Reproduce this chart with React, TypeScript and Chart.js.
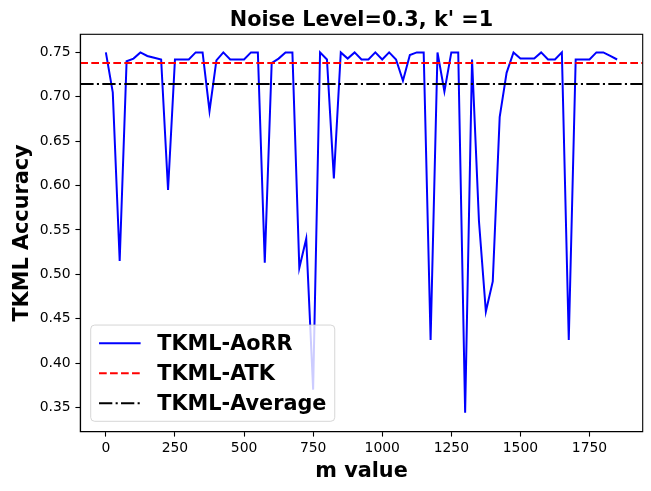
import { useEffect, useRef } from "react"
import { Chart, registerables } from "chart.js"

Chart.register(...registerables)

const chartTitle = "Noise Level=0.3, k' =1"
const xTitle = "m value"
const yTitle = "TKML Accuracy"

const mValues = [
  0, 25, 50, 75, 100, 125, 150, 175, 200, 225, 250, 275, 300, 325, 350, 375, 400, 425, 450,
  475, 500, 525, 550, 575, 600, 625, 650, 675, 700, 725, 750, 775, 800, 825, 850, 875, 900,
  925, 950, 975, 1000, 1025, 1050, 1075, 1100, 1125, 1150, 1175, 1200, 1225, 1250, 1275,
  1300, 1325, 1350, 1375, 1400, 1425, 1450, 1475, 1500, 1525, 1550, 1575, 1600, 1625, 1650,
  1675, 1700, 1725, 1750, 1775, 1800, 1825, 1850,
]

const aorrAccuracy = [
  0.75, 0.705, 0.515, 0.74, 0.743, 0.75, 0.746, 0.744, 0.742, 0.595, 0.742, 0.742, 0.742,
  0.75, 0.75, 0.684, 0.741, 0.75, 0.742, 0.742, 0.742, 0.75, 0.75, 0.513, 0.738, 0.743, 0.75,
  0.75, 0.507, 0.54, 0.37, 0.75, 0.742, 0.608, 0.75, 0.743, 0.75, 0.742, 0.742, 0.75, 0.742,
  0.75, 0.742, 0.718, 0.747, 0.75, 0.75, 0.426, 0.75, 0.706, 0.75, 0.75, 0.344, 0.742, 0.56,
  0.458, 0.492, 0.677, 0.727, 0.75, 0.743, 0.743, 0.743, 0.75, 0.742, 0.742, 0.75, 0.426,
  0.742, 0.742, 0.742, 0.75, 0.75, 0.746, 0.742,
]

const atkAccuracy = 0.738
const averageAccuracy = 0.7145

const xTicks = [0, 250, 500, 750, 1000, 1250, 1500, 1750]
const yTicks = [0.35, 0.4, 0.45, 0.5, 0.55, 0.6, 0.65, 0.7, 0.75]
const xLimits = [-92.5, 1942.5]
const yLimits = [0.3226, 0.7704]

const labelFont = "bold 20.8px 'DejaVu Sans'"

// title centred over the plot area, like matplotlib
const titlePlugin = {
  id: "axesTitle",
  afterDraw(chart: any) {
    const { ctx, chartArea } = chart
    ctx.save()
    ctx.font = labelFont
    ctx.fillStyle = "#000"
    ctx.textAlign = "center"
    ctx.textBaseline = "alphabetic"
    ctx.fillText(chartTitle, (chartArea.left + chartArea.right) / 2, 25.5)
    ctx.restore()
  },
}

// black frame around the axes
const framePlugin = {
  id: "axesFrame",
  afterDatasetsDraw(chart: any) {
    const { ctx, chartArea } = chart
    ctx.save()
    ctx.strokeStyle = "#000"
    ctx.lineWidth = 1.1
    ctx.strokeRect(chartArea.left, chartArea.top, chartArea.right - chartArea.left, chartArea.bottom - chartArea.top)
    ctx.restore()
  },
}

// legend inside the axes, lower left, semi-transparent box
const legendPlugin = {
  id: "innerLegend",
  afterDatasetsDraw(chart: any) {
    const { ctx, chartArea } = chart
    const sets = [...chart.data.datasets].sort((a: any, b: any) => b.order - a.order)
    const fs = 20.8
    const pad = 0.4 * fs
    const handleLen = 2 * fs
    const textPad = 0.8 * fs
    const rowH = 19.6
    const rowGap = 0.5 * fs
    ctx.save()
    ctx.font = labelFont
    const textW = Math.max(...sets.map((d: any) => ctx.measureText(d.label).width))
    const w = pad + handleLen + textPad + textW + pad
    const h = pad * 2 + rowH * sets.length + rowGap * (sets.length - 1)
    const x0 = chartArea.left + 0.5 * fs
    const y0 = chartArea.bottom - 0.5 * fs - h
    ctx.beginPath()
    ctx.roundRect(x0, y0, w, h, 4)
    ctx.fillStyle = "rgba(255,255,255,0.8)"
    ctx.fill()
    ctx.strokeStyle = "rgba(204,204,204,0.8)"
    ctx.lineWidth = 1
    ctx.stroke()
    sets.forEach((d: any, i: number) => {
      const cy = y0 + pad + rowH / 2 + i * (rowH + rowGap)
      ctx.beginPath()
      ctx.setLineDash(d.borderDash || [])
      ctx.strokeStyle = d.borderColor
      ctx.lineWidth = d.borderWidth
      ctx.moveTo(x0 + pad, cy)
      ctx.lineTo(x0 + pad + handleLen, cy)
      ctx.stroke()
      ctx.setLineDash([])
      ctx.fillStyle = "#000"
      ctx.textAlign = "left"
      ctx.textBaseline = "middle"
      ctx.fillText(d.label, x0 + pad + handleLen + textPad, cy + 1)
    })
    ctx.restore()
  },
}

function AccuracyChart() {
  const chartRef = useRef<HTMLCanvasElement>(null)
  const chartInstance = useRef<Chart | null>(null)

  useEffect(() => {
    if (!chartRef.current) return
    if (chartInstance.current) chartInstance.current.destroy()
    const ctx = chartRef.current.getContext("2d")
    if (!ctx) return

    const tickFont = { family: "'DejaVu Sans'", size: 13.9 }

    chartInstance.current = new Chart(ctx, {
      type: "line",
      data: {
        datasets: [
          {
            label: "TKML-AoRR",
            data: mValues.map((m, i) => ({ x: m, y: aorrAccuracy[i] })),
            borderColor: "#0000ff",
            borderWidth: 2,
            pointRadius: 0,
            tension: 0,
            fill: false,
            order: 2,
          },
          {
            label: "TKML-ATK",
            data: xLimits.map((x) => ({ x, y: atkAccuracy })),
            borderColor: "#ff0000",
            borderWidth: 2,
            borderDash: [7.7, 3.3],
            pointRadius: 0,
            fill: false,
            order: 1,
          },
          {
            label: "TKML-Average",
            data: xLimits.map((x) => ({ x, y: averageAccuracy })),
            borderColor: "#000000",
            borderWidth: 2,
            borderDash: [13.3, 3.3, 2.1, 3.3],
            pointRadius: 0,
            fill: false,
            order: 0,
          },
        ],
      },
      options: {
        responsive: false,
        animation: false,
        layout: { padding: { top: 34.3, right: 8.3, left: 0, bottom: 0 } },
        scales: {
          x: {
            type: "linear",
            min: xLimits[0],
            max: xLimits[1],
            afterBuildTicks: (axis: any) => {
              axis.ticks = xTicks.map((v) => ({ value: v }))
            },
            afterFit: (axis: any) => {
              axis.height = 59.3
            },
            ticks: {
              color: "#000",
              font: tickFont,
              padding: 3.8,
              maxRotation: 0,
              autoSkip: false,
              callback: (v: any) => String(v),
            },
            grid: { drawOnChartArea: false, drawTicks: true, tickLength: 4.9, tickColor: "#000", tickWidth: 1.1 },
            border: { display: true, color: "#000", width: 1.1 },
            title: {
              display: true,
              text: xTitle,
              color: "#000",
              font: { family: "'DejaVu Sans'", size: 20.8, weight: "bold" },
              padding: { top: 0, bottom: 7.3 },
            },
          },
          y: {
            type: "linear",
            min: yLimits[0],
            max: yLimits[1],
            afterBuildTicks: (axis: any) => {
              axis.ticks = yTicks.map((v) => ({ value: v }))
            },
            afterFit: (axis: any) => {
              axis.width = 80.3
            },
            ticks: {
              color: "#000",
              font: tickFont,
              padding: 4.7,
              autoSkip: false,
              callback: (v: any) => Number(v).toFixed(2),
            },
            grid: { drawOnChartArea: false, drawTicks: true, tickLength: 4.9, tickColor: "#000", tickWidth: 1.1 },
            border: { display: true, color: "#000", width: 1.1 },
            title: {
              display: true,
              text: yTitle,
              color: "#000",
              font: { family: "'DejaVu Sans'", size: 20.8, weight: "bold" },
              padding: { top: 10, bottom: 0 },
            },
          },
        },
        plugins: {
          legend: { display: false },
          title: { display: false },
          tooltip: { enabled: false },
        },
      },
      plugins: [framePlugin, legendPlugin, titlePlugin],
    })

    return () => {
      if (chartInstance.current) {
        chartInstance.current.destroy()
        chartInstance.current = null
      }
    }
  }, [])

  return <canvas ref={chartRef} width={651} height={491} />
}

export default function App() {
  return (
    <div style={{ position: "absolute", left: 0, top: 0, width: 651, height: 491, background: "#fff" }}>
      <AccuracyChart />
    </div>
  )
}
